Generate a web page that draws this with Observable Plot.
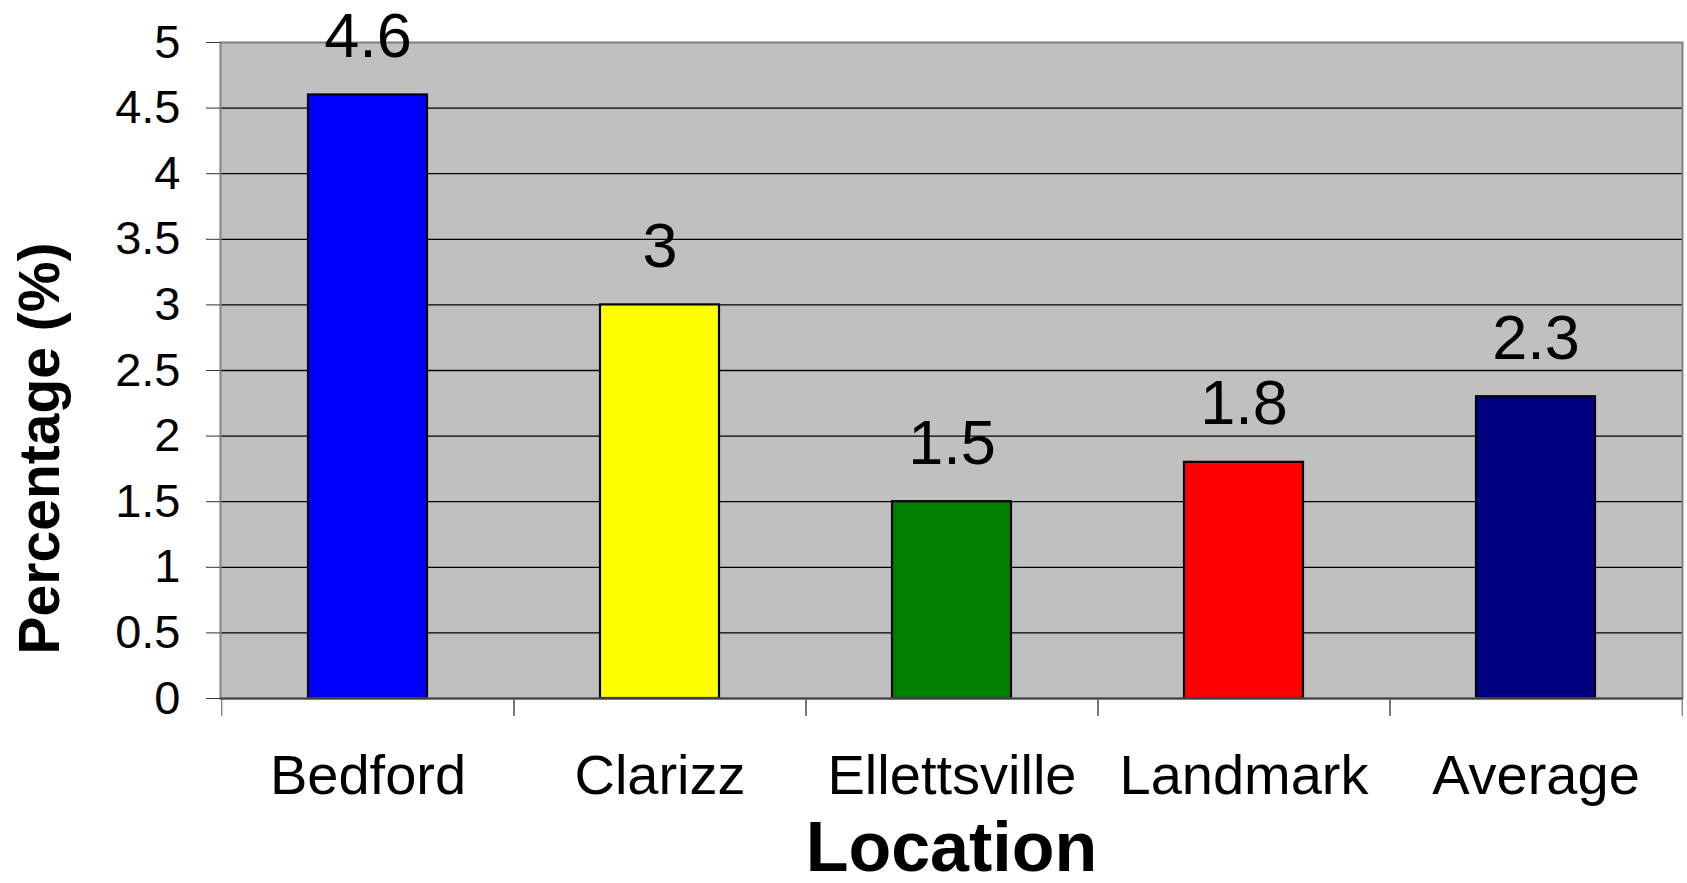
<!DOCTYPE html>
<html>
<head>
<meta charset="utf-8">
<script src="https://cdn.jsdelivr.net/npm/d3@7"></script>
<script src="https://cdn.jsdelivr.net/npm/@observablehq/plot@0.6"></script>
<style>
  html, body { margin: 0; padding: 0; background: #fff; }
  #chart svg { display: block; }
</style>
</head>
<body>
<div id="chart"></div>
<script>
const categories = ["Bedford", "Clarizz", "Ellettsville", "Landmark", "Average"];
const values = [4.6, 3, 1.5, 1.8, 2.3];
const barColors = ["#0000ff", "#ffff00", "#008000", "#ff0000", "#000080"];
const yTicks = [0, 0.5, 1, 1.5, 2, 2.5, 3, 3.5, 4, 4.5, 5];
const yLabel = "Percentage (%)";
const xLabel = "Location";

const data = categories.map((c, i) => ({loc: c, value: values[i]}));

const W = 1687, H = 883;
const mL = 220, mR = 5, mT = 42, mB = 185;
const step = (W - mL - mR) / categories.length;
const font = "'Liberation Sans', Arial, Helvetica, sans-serif";

const chart = Plot.plot({
  width: W,
  height: H,
  marginLeft: mL,
  marginRight: mR,
  marginTop: mT,
  marginBottom: mB,
  style: {fontFamily: font, background: "#fff", overflow: "visible"},
  x: {domain: categories, paddingInner: 0.593, paddingOuter: 0.2965, axis: null},
  y: {domain: [0, 5], axis: null},
  color: {domain: categories, range: barColors},
  marks: [
    Plot.frame({fill: "#c0c0c0", stroke: null}),
    Plot.ruleY(yTicks.filter(v => v > 0 && v < 5), {stroke: "#000", strokeWidth: 1.3}),
    Plot.barY(data, {x: "loc", y: "value", fill: "loc", stroke: "#000", strokeWidth: 2.2}),
    Plot.frame({stroke: "#808080", strokeWidth: 2}),
    Plot.ruleY([0], {stroke: "#404040", strokeWidth: 2}),
    Plot.axisY({ticks: yTicks, tickSize: 14, tickPadding: 26, fontSize: 47, label: null,
                tickFormat: d => String(d), stroke: "#333", fill: "#000"}),
    Plot.axisX({ticks: categories, tickSize: 18, text: null, label: null, dx: -step / 2, stroke: "#555"}),
    Plot.axisX({ticks: categories, tickSize: 18, text: null, label: null, dx: step / 2, stroke: "#555"}),
    Plot.axisX({ticks: categories, tickSize: 0, tickPadding: 56, fontSize: 56, label: null, fill: "#000"}),
    Plot.text(data, {x: "loc", y: "value", text: d => String(d.value), dy: -38, lineAnchor: "bottom",
                     fontSize: 63, fill: "#000"}),
    Plot.text([yLabel], {frameAnchor: "left", dx: -162, dy: 78, rotate: -90, lineAnchor: "bottom",
                         textAnchor: "middle", fontSize: 57, fontWeight: "bold", fill: "#000"}),
    Plot.text([xLabel], {frameAnchor: "bottom", dy: 172, lineAnchor: "bottom", textAnchor: "middle",
                         fontSize: 70, fontWeight: "bold", fill: "#000"})
  ]
});
document.getElementById("chart").appendChild(chart);
</script>
</body>
</html>
